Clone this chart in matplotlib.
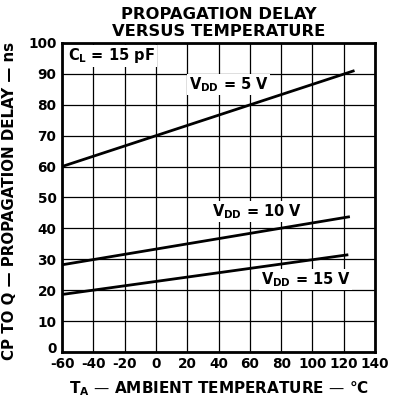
import matplotlib
matplotlib.use("Agg")
import matplotlib.pyplot as plt
import matplotlib.transforms as mtransforms

plt.rcParams['font.family'] = ['DejaVu Sans']
plt.rcParams['font.weight'] = 'bold'
plt.rcParams['mathtext.default'] = 'bf'

temp_5v = [-60, 126]
delay_5v = [60, 90.9]
temp_10v = [-60, 123]
delay_10v = [28.2, 43.7]
temp_15v = [-60, 122]
delay_15v = [18.6, 31.4]

xticks = [-60, -40, -20, 0, 20, 40, 60, 80, 100, 120, 140]
yticks = [0, 10, 20, 30, 40, 50, 60, 70, 80, 90, 100]

fig = plt.figure(figsize=(4.04, 4.03), dpi=100)
ax = fig.add_axes([0.1535, 0.1266, 0.775, 0.767])
ax.set_xlim(-60, 140)
ax.set_ylim(0, 100)
ax.set_xticks(xticks)
ax.set_yticks(yticks)
ax.set_xticklabels([str(t) for t in xticks], fontsize=9.8, fontweight='bold')
ax.set_yticklabels([str(t) for t in yticks], fontsize=9.8, fontweight='bold')
ax.tick_params(axis='x', length=0, pad=3.5)
ax.tick_params(axis='y', length=0, pad=4)
ax.grid(True, color='black', linewidth=0.9)
for s in ax.spines.values():
    s.set_linewidth(2)

# nudge the "0" y tick label up slightly, as in the reference
lbl0 = ax.get_yticklabels()[0]
lbl0.set_transform(lbl0.get_transform() + mtransforms.ScaledTranslation(0, 3 / 72, fig.dpi_scale_trans))

ax.plot(temp_5v, delay_5v, color='black', lw=2)
ax.plot(temp_10v, delay_10v, color='black', lw=2)
ax.plot(temp_15v, delay_15v, color='black', lw=2)

bbox = dict(facecolor='white', edgecolor='none', pad=1)
ax.text(-56, 95.8, r'C$_\mathbf{L}$ = 15 pF', fontsize=10.5, fontweight='bold', va='center', ha='left', bbox=bbox)
ax.text(21, 86.5, r'V$_\mathbf{DD}$ = 5 V', fontsize=10.5, fontweight='bold', va='center', ha='left', bbox=bbox)
ax.text(36, 45.5, r'V$_\mathbf{DD}$ = 10 V', fontsize=10.5, fontweight='bold', va='center', ha='left', bbox=bbox)
ax.text(67, 23.5, r'V$_\mathbf{DD}$ = 15 V', fontsize=10.5, fontweight='bold', va='center', ha='left', bbox=bbox)

ax.set_title('PROPAGATION DELAY\nVERSUS TEMPERATURE', fontsize=11.8, fontweight='bold', linespacing=1.12, pad=5)
ax.set_xlabel(r'T$_\mathbf{A}$ — AMBIENT TEMPERATURE — °C', fontsize=11, fontweight='bold', labelpad=6)
ax.set_ylabel('CP TO Q — PROPAGATION DELAY — ns', fontsize=10.8, fontweight='bold')
ax.yaxis.set_label_coords(-0.145, 0.489)

fig.savefig('out.png', dpi=100)
